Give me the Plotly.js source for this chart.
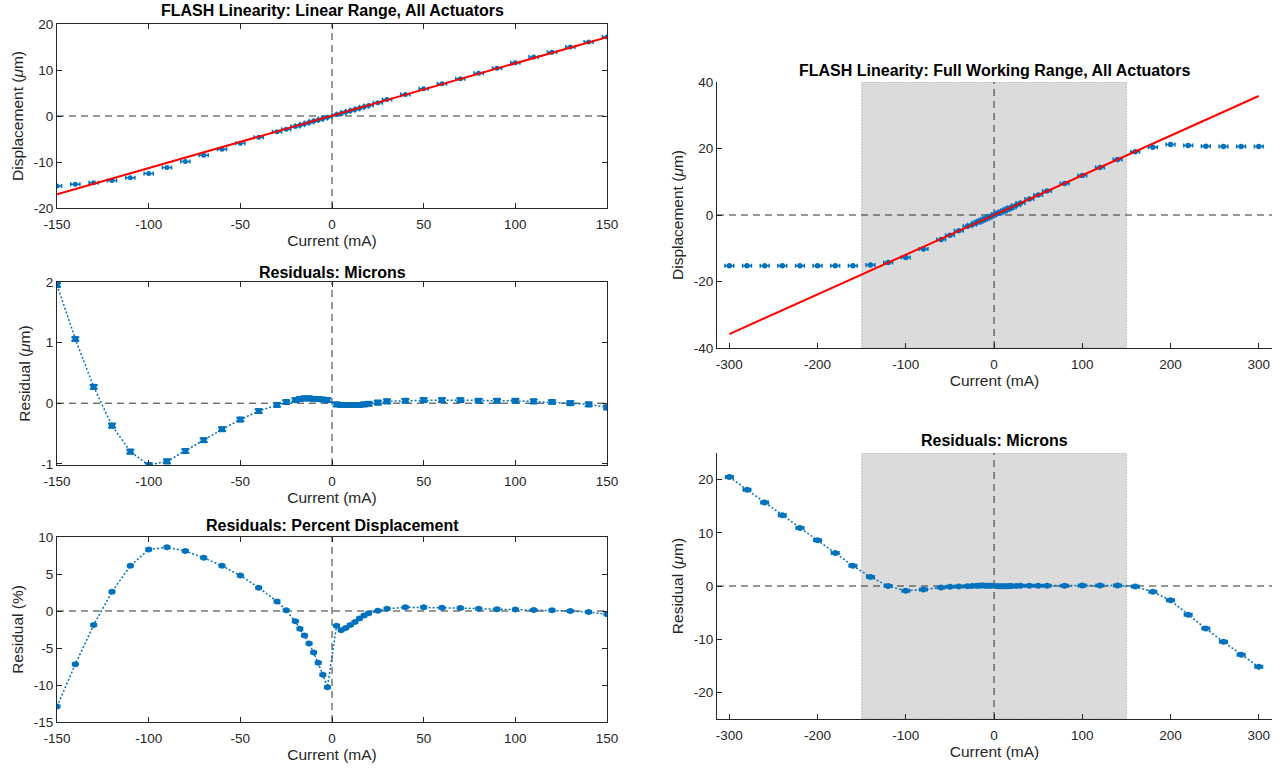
<!DOCTYPE html>
<html>
<head>
<meta charset="utf-8">
<script src="https://cdn.plot.ly/plotly-3.0.1.min.js"></script>
<style>html,body{margin:0;padding:0;background:#fff;}#chart{width:1283px;height:771px;}</style>
</head>
<body>
<div id="chart"></div>
<script>
// ---- Data: linear range (left column) ----
const xLin = [-150,-140,-130,-120,-110,-100,-90,-80,-70,-60,-50,-40,-30,-25,-20,-17.5,-15,-12.5,-10,-7.5,-5,-2.5,2.5,5,7.5,10,12.5,15,17.5,20,25,30,40,50,60,70,80,90,100,110,120,130,140,150];
const dispLin = [-15.2,-14.85,-14.5,-14.0,-13.4,-12.5,-11.2,-9.9,-8.55,-7.25,-5.9,-4.6,-3.4,-2.9,-2.3,-2.0,-1.7,-1.4,-1.1,-0.85,-0.55,-0.25,0.3,0.55,0.85,1.15,1.4,1.7,2.0,2.3,2.9,3.6,4.7,5.9,7.0,8.1,9.3,10.4,11.6,12.8,13.85,15.0,16.1,17.2];
const residLin = [1.95,1.06,0.27,-0.37,-0.8,-1.02,-0.96,-0.79,-0.61,-0.43,-0.27,-0.13,-0.03,0.02,0.05,0.07,0.08,0.08,0.07,0.07,0.06,0.05,-0.02,-0.03,-0.03,-0.03,-0.03,-0.03,-0.02,-0.01,0.01,0.03,0.04,0.05,0.05,0.05,0.04,0.04,0.04,0.03,0.02,0.0,-0.02,-0.07];
const pctLin = [-12.9,-7.2,-1.9,2.6,6.1,8.3,8.6,8.1,7.2,6.1,4.8,3.15,1.3,0.1,-1.4,-2.4,-3.3,-4.4,-5.6,-7.0,-8.6,-10.3,-2.0,-2.6,-2.3,-1.9,-1.5,-1.0,-0.6,-0.3,0.05,0.3,0.5,0.5,0.45,0.4,0.3,0.25,0.2,0.15,0.1,0.0,-0.15,-0.45];
const fitLinX = [-150, 150];
const fitLinY = [-17.0, 17.15];

// ---- Data: full working range (right column) ----
const xFull = [-300,-280,-260,-240,-220,-200,-180,-160,-140,-120,-100,-80,-60,-50,-40,-30,-25,-20,-17.5,-15,-12.5,-10,-7.5,-5,-2.5,2.5,5,7.5,10,12.5,15,17.5,20,25,30,40,50,60,80,100,120,140,160,180,200,220,240,260,280,300];
const dispFull = [-15.3,-15.3,-15.3,-15.3,-15.3,-15.3,-15.3,-15.3,-15.0,-14.3,-12.8,-10.2,-7.4,-6.1,-4.7,-3.4,-2.9,-2.3,-2.0,-1.7,-1.4,-1.1,-0.85,-0.55,-0.25,0.3,0.55,0.85,1.15,1.4,1.7,2.0,2.3,2.9,3.6,4.8,6.0,7.2,9.5,11.9,14.3,16.7,19.0,20.4,21.2,20.9,20.7,20.6,20.6,20.6];
const residFull = [20.5,18.1,15.7,13.3,10.9,8.6,6.2,3.8,1.7,0.0,-0.9,-0.68,-0.26,-0.15,-0.1,-0.05,0.0,0.05,0.07,0.08,0.08,0.07,0.07,0.06,0.05,-0.02,-0.03,-0.03,-0.03,-0.03,-0.03,-0.02,-0.01,0.01,0.03,0.04,0.05,0.05,0.05,0.1,0.1,0.1,-0.1,-1.1,-2.7,-5.4,-8.0,-10.5,-12.9,-15.2];
const fitFullX = [-300, 300];
const fitFullY = [-35.8, 35.8];
const workRange = [-150, 150];

// ---- Axis ranges ----
const xRangeLin = [-150, 150];
const yRangeDisp = [-20, 20];
const yRangeRes = [-1.02, 2];
const yRangePct = [-15, 10];
const xRangeFull = [-314, 315];
const yRangeFullDisp = [-40, 40];
const yRangeFullRes = [-25, 25];

// ---- Tick values and labels ----
const xTicksLin = [-150,-100,-50,0,50,100,150];
const xLabelsLin = ['-150','-100','-50','0','50','100','150'];
const xTicksFull = [-300,-200,-100,0,100,200,300];
const xLabelsFull = ['-300','-200','-100','0','100','200','300'];
const yTicksDisp = [-20,-10,0,10,20];
const yLabelsDisp = ['-20','-10','0','10','20'];
const yTicksRes = [-1,0,1,2];
const yLabelsRes = ['-1','0','1','2'];
const yTicksPct = [-15,-10,-5,0,5,10];
const yLabelsPct = ['-15','-10','-5','0','5','10'];
const yTicksFullDisp = [-40,-20,0,20,40];
const yLabelsFullDisp = ['-40','-20','0','20','40'];
const yTicksFullRes = [-20,-10,0,10,20];
const yLabelsFullRes = ['-20','-10','0','10','20'];

const W = 1283, H = 771;
const BLUE = '#0072BD', RED = '#FF0000', AX = '#262626';
const FONT = 'Liberation Sans, Arial, Helvetica, sans-serif';
const TICK = 13.5, LABEL = 15.5, TITLE = 16;

function dx(a, b) { return [a / W, b / W]; }
function dy(top, bottom) { return [1 - bottom / H, 1 - top / H]; }

const boxes = {
  tl: {x: [57, 607], y: [24, 208]},
  ml: {x: [57, 607], y: [282, 465]},
  bl: {x: [57, 607], y: [537, 722]},
  tr: {x: [717, 1272], y: [82, 348]},
  br: {x: [717, 1272], y: [453, 719]}
};

function xax(box, range, ticks, labels, anchor, mirror) {
  return {
    domain: dx(box.x[0], box.x[1]), range: range, anchor: anchor,
    tickmode: 'array', tickvals: ticks, ticktext: labels, ticks: 'inside', ticklen: 5, tickcolor: AX,
    ticklabelstandoff: 4,
    showline: true, linecolor: AX, linewidth: 1, mirror: mirror ? 'ticks' : false,
    showgrid: false, zeroline: false, fixedrange: true,
    tickfont: {family: FONT, size: TICK, color: AX},
    title: {text: 'Current (mA)', font: {family: FONT, size: LABEL, color: AX}, standoff: 3},
    automargin: false
  };
}
function yax(box, range, ticks, labels, anchor, mirror, title) {
  return {
    domain: dy(box.y[0], box.y[1]), range: range, anchor: anchor,
    tickmode: 'array', tickvals: ticks, ticktext: labels, ticks: 'inside', ticklen: 5, tickcolor: AX,
    showline: true, linecolor: AX, linewidth: 1, mirror: mirror ? 'ticks' : false,
    showgrid: false, zeroline: false, fixedrange: true,
    tickfont: {family: FONT, size: TICK, color: AX},
    title: {text: title, font: {family: FONT, size: LABEL, color: AX}, standoff: 6},
    automargin: false
  };
}

const dotLine = {color: BLUE, width: 1.5, dash: '2px,2px'};

const traces = [
  {x: xLin, y: dispLin, xaxis: 'x', yaxis: 'y', mode: 'markers', type: 'scatter',
   marker: {color: BLUE, size: 5, symbol: 'circle'},
   error_x: {type: 'constant', value: 2.5, color: BLUE, thickness: 1.5, width: 2}},
  {x: fitLinX, y: fitLinY, xaxis: 'x', yaxis: 'y', mode: 'lines', type: 'scatter',
   line: {color: RED, width: 2}},
  {x: xLin, y: residLin, xaxis: 'x2', yaxis: 'y2', mode: 'lines+markers', type: 'scatter',
   line: dotLine, marker: {color: BLUE, size: 6, symbol: 'square'},
   error_y: {type: 'constant', value: 0.03, color: BLUE, thickness: 2, width: 4}},
  {x: xLin, y: pctLin, xaxis: 'x3', yaxis: 'y3', mode: 'lines+markers', type: 'scatter',
   line: dotLine, marker: {color: BLUE, size: 6, symbol: 'circle'},
   error_x: {type: 'constant', value: 1.5, color: BLUE, thickness: 1.5, width: 2}},
  {x: xFull, y: dispFull, xaxis: 'x4', yaxis: 'y4', mode: 'markers', type: 'scatter',
   marker: {color: BLUE, size: 5.5, symbol: 'circle'},
   error_x: {type: 'constant', value: 5, color: BLUE, thickness: 1.5, width: 2}},
  {x: fitFullX, y: fitFullY, xaxis: 'x4', yaxis: 'y4', mode: 'lines', type: 'scatter',
   line: {color: RED, width: 2}},
  {x: xFull, y: residFull, xaxis: 'x5', yaxis: 'y5', mode: 'lines+markers', type: 'scatter',
   line: dotLine, marker: {color: BLUE, size: 6, symbol: 'circle'},
   error_x: {type: 'constant', value: 4, color: BLUE, thickness: 2, width: 2}}
];

const dash = {color: '#303030', width: 1, dash: '7px,5px'};
function zeroLines(xr, yr, xRange, yRange) {
  return [
    {type: 'line', xref: xr, yref: yr, x0: 0, x1: 0, y0: yRange[0], y1: yRange[1], line: dash, layer: 'below'},
    {type: 'line', xref: xr, yref: yr, x0: xRange[0], x1: xRange[1], y0: 0, y1: 0, line: dash, layer: 'below'}
  ];
}
const rectStyle = {fillcolor: 'rgb(219,219,219)', line: {color: 'rgb(150,150,150)', width: 1, dash: '1px,2px'}, layer: 'below'};
const shapes = [
  Object.assign({type: 'rect', xref: 'x4', yref: 'y4', x0: workRange[0], x1: workRange[1], y0: yRangeFullDisp[0], y1: yRangeFullDisp[1]}, rectStyle),
  Object.assign({type: 'rect', xref: 'x5', yref: 'y5', x0: workRange[0], x1: workRange[1], y0: yRangeFullRes[0], y1: yRangeFullRes[1]}, rectStyle),
  ...zeroLines('x', 'y', xRangeLin, yRangeDisp),
  ...zeroLines('x2', 'y2', xRangeLin, yRangeRes),
  ...zeroLines('x3', 'y3', xRangeLin, yRangePct),
  ...zeroLines('x4', 'y4', xRangeFull, yRangeFullDisp),
  ...zeroLines('x5', 'y5', xRangeFull, yRangeFullRes)
];

function title(text, box, ypx) {
  return {text: '<b>' + text + '</b>', xref: 'paper', yref: 'paper',
    x: (box.x[0] + box.x[1]) / 2 / W, y: 1 - ypx / H, xanchor: 'center', yanchor: 'middle',
    showarrow: false, font: {family: FONT, size: TITLE, color: '#000'}};
}
const annotations = [
  title('FLASH Linearity: Linear Range, All Actuators', boxes.tl, 11),
  title('Residuals: Microns', boxes.ml, 272),
  title('Residuals: Percent Displacement', boxes.bl, 525),
  title('FLASH Linearity: Full Working Range, All Actuators', boxes.tr, 70),
  title('Residuals: Microns', boxes.br, 440)
];

const layout = {
  width: W, height: H, margin: {l: 0, r: 0, t: 0, b: 0},
  paper_bgcolor: '#fff', plot_bgcolor: '#fff', showlegend: false,
  font: {family: FONT, color: AX},
  xaxis: xax(boxes.tl, xRangeLin, xTicksLin, xLabelsLin, 'y', true),
  yaxis: yax(boxes.tl, yRangeDisp, yTicksDisp, yLabelsDisp, 'x', true, 'Displacement (<i>μ</i>m)'),
  xaxis2: xax(boxes.ml, xRangeLin, xTicksLin, xLabelsLin, 'y2', true),
  yaxis2: yax(boxes.ml, yRangeRes, yTicksRes, yLabelsRes, 'x2', true, 'Residual (<i>μ</i>m)'),
  xaxis3: xax(boxes.bl, xRangeLin, xTicksLin, xLabelsLin, 'y3', true),
  yaxis3: yax(boxes.bl, yRangePct, yTicksPct, yLabelsPct, 'x3', true, 'Residual (%)'),
  xaxis4: xax(boxes.tr, xRangeFull, xTicksFull, xLabelsFull, 'y4', false),
  yaxis4: yax(boxes.tr, yRangeFullDisp, yTicksFullDisp, yLabelsFullDisp, 'x4', false, 'Displacement (<i>μ</i>m)'),
  xaxis5: xax(boxes.br, xRangeFull, xTicksFull, xLabelsFull, 'y5', false),
  yaxis5: yax(boxes.br, yRangeFullRes, yTicksFullRes, yLabelsFullRes, 'x5', false, 'Residual (<i>μ</i>m)'),
  shapes: shapes, annotations: annotations
};

Plotly.newPlot('chart', traces, layout, {displayModeBar: false, staticPlot: true});
</script>
</body>
</html>
